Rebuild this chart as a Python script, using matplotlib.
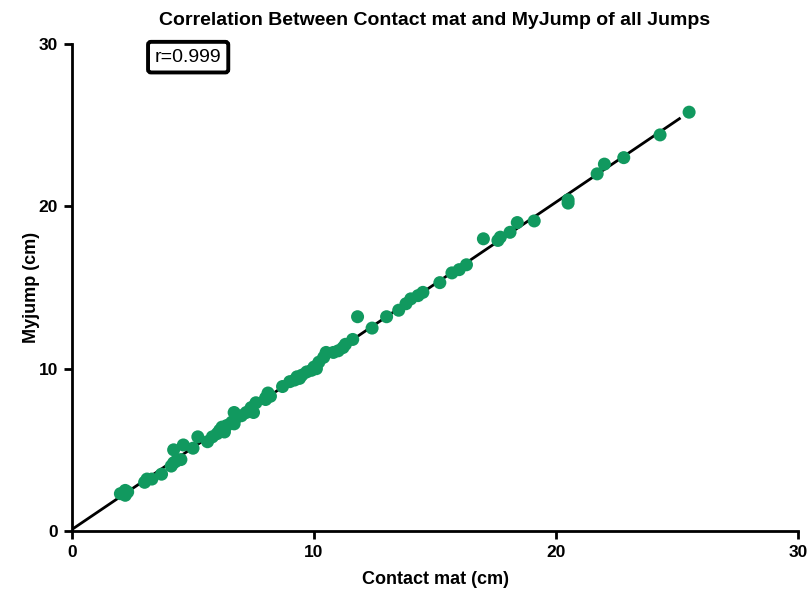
import numpy as np
import matplotlib.pyplot as plt

plt.rcParams['font.family'] = ['Liberation Sans', 'DejaVu Sans']

# Jump heights (cm) measured with contact mat vs MyJump app
contact_mat = [2.0, 2.2, 2.3, 2.2, 3.0, 3.1, 3.3, 3.7, 4.1, 4.2, 4.3, 4.5, 4.2,
               4.6, 5.0, 5.2, 5.6, 5.8, 6.0, 6.1, 6.2, 6.3, 6.4, 6.6, 6.7, 6.8,
               6.7, 7.0, 7.2, 7.5, 7.6, 7.4, 8.0, 8.1, 8.2, 8.0, 8.7, 9.0, 9.2,
               9.3, 9.5, 9.4, 9.7, 9.9, 10.0, 10.1, 10.2, 10.4, 10.5, 10.8, 11.0,
               11.2, 11.3, 11.6, 11.8, 12.4, 13.0, 13.5, 13.8, 14.0, 14.3, 14.5,
               15.2, 15.7, 16.0, 16.3, 17.0, 17.6, 17.7, 18.1, 18.4, 19.1, 20.5,
               20.5, 21.7, 22.0, 22.8, 24.3, 25.5]
myjump = [2.3, 2.2, 2.4, 2.5, 3.0, 3.2, 3.2, 3.5, 4.0, 4.2, 4.3, 4.4, 5.0,
          5.3, 5.1, 5.8, 5.5, 5.8, 6.0, 6.2, 6.4, 6.1, 6.5, 6.7, 6.6, 7.0,
          7.3, 7.1, 7.3, 7.3, 7.9, 7.6, 8.1, 8.5, 8.3, 8.2, 8.9, 9.2, 9.3,
          9.5, 9.6, 9.4, 9.8, 9.9, 10.1, 10.0, 10.4, 10.7, 11.0, 11.0, 11.1,
          11.3, 11.5, 11.8, 13.2, 12.5, 13.2, 13.6, 14.0, 14.3, 14.5, 14.7,
          15.3, 15.9, 16.1, 16.4, 18.0, 17.9, 18.1, 18.4, 19.0, 19.1, 20.2,
          20.4, 22.0, 22.6, 23.0, 24.4, 25.8]
fit_range = [0, 25.1]
ticks = [0, 10, 20, 30]
r_label = "r=0.999"

x = np.array(contact_mat)
y = np.array(myjump)
slope, intercept = np.polyfit(x, y, 1)
line_x = np.array(fit_range)

fig = plt.figure(figsize=(8.11, 5.94), dpi=100)
ax = fig.add_axes([72 / 811, 63 / 594, 726 / 811, 487 / 594])

ax.plot(line_x, slope * line_x + intercept, color='black', lw=2.0, zorder=2)
ax.scatter(x, y, s=88, color='#11995F', edgecolors='none', zorder=3, clip_on=False)

ax.set_xlim(0, 30)
ax.set_ylim(0, 30)
ax.set_xticks(ticks)
ax.set_yticks(ticks)
for s in ['top', 'right']:
    ax.spines[s].set_visible(False)
for s in ['left', 'bottom']:
    ax.spines[s].set_linewidth(2.0)
ax.tick_params(width=2.0, length=6, labelsize=12.5, pad=4)
for lab in ax.get_xticklabels() + ax.get_yticklabels():
    lab.set_fontweight('bold')

ax.set_xlabel('Contact mat (cm)', fontsize=13, fontweight='bold', labelpad=8)
ax.set_ylabel('Myjump (cm)', fontsize=13, fontweight='bold', labelpad=-1)
ax.set_title('Correlation Between Contact mat and MyJump of all Jumps',
             fontsize=14, fontweight='bold', pad=14)

ax.text(0.16, 0.973, r_label, transform=ax.transAxes, fontsize=14,
        ha='center', va='center',
        bbox=dict(boxstyle='round,pad=0.35,rounding_size=0.15',
                  facecolor='white', edgecolor='black', linewidth=2.8))

fig.savefig('out.png', dpi=100)
